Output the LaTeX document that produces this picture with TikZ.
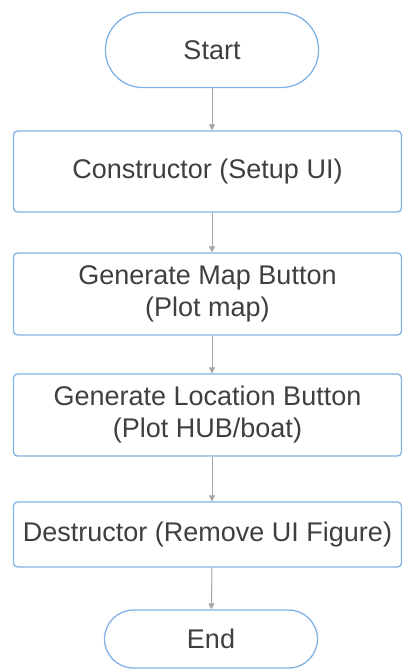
\documentclass[tikz,border=0pt]{standalone}
\usepackage{fontspec}
\setmainfont{Liberation Sans}
\usetikzlibrary{arrows.meta}
\definecolor{boxblue}{HTML}{7FB2E5}
\definecolor{txtgray}{HTML}{3F3F3F}
\definecolor{arrgray}{HTML}{A6A6A6}
\tikzset{
  terminal/.style={draw=boxblue, line width=1.3pt, rounded corners=29pt, minimum width=213pt, text=txtgray, font=\fontsize{27}{32}\selectfont},
  process/.style={draw=boxblue, line width=1.3pt, rounded corners=4pt, minimum width=388pt, align=center, text=txtgray, font=\fontsize{27}{32}\selectfont},
  flow/.style={draw=arrgray, line width=1pt, -{Triangle[length=6pt,width=6pt]}}
}
\begin{document}
\begin{tikzpicture}[x=1pt,y=-1pt]
        \useasboundingbox (0,0) rectangle (403,669);
        % Nodes 
        \node(start) [terminal, minimum height=75pt, rounded corners=37pt] at (212,50) {Start};
        \node(ctor) [process, minimum height=81pt] at (207.5,171.5) {Constructor (Setup UI)};
        \node(map) [process, minimum height=82pt] at (207.5,294) {Generate Map Button\\(Plot map)};
        \node(loc) [process, minimum height=82pt] at (207.5,415) {Generate Location Button\\(Plot HUB/boat)};
        \node(dtor) [process, minimum height=65pt] at (207.5,534.5) {Destructor (Remove UI Figure)};
        \node(end) [terminal, minimum height=58pt] at (211,639) {End};
        
        % Edges
        \draw[flow] (start) -- (start |- ctor.north);
        \draw[flow] (start |- ctor.south) -- (start |- map.north);
        \draw[flow] (start |- map.south) -- (start |- loc.north);
        \draw[flow] (start |- loc.south) -- (start |- dtor.north);
        \draw[flow] (start |- dtor.south) -- (end);
    
    \end{tikzpicture}
\end{document}
